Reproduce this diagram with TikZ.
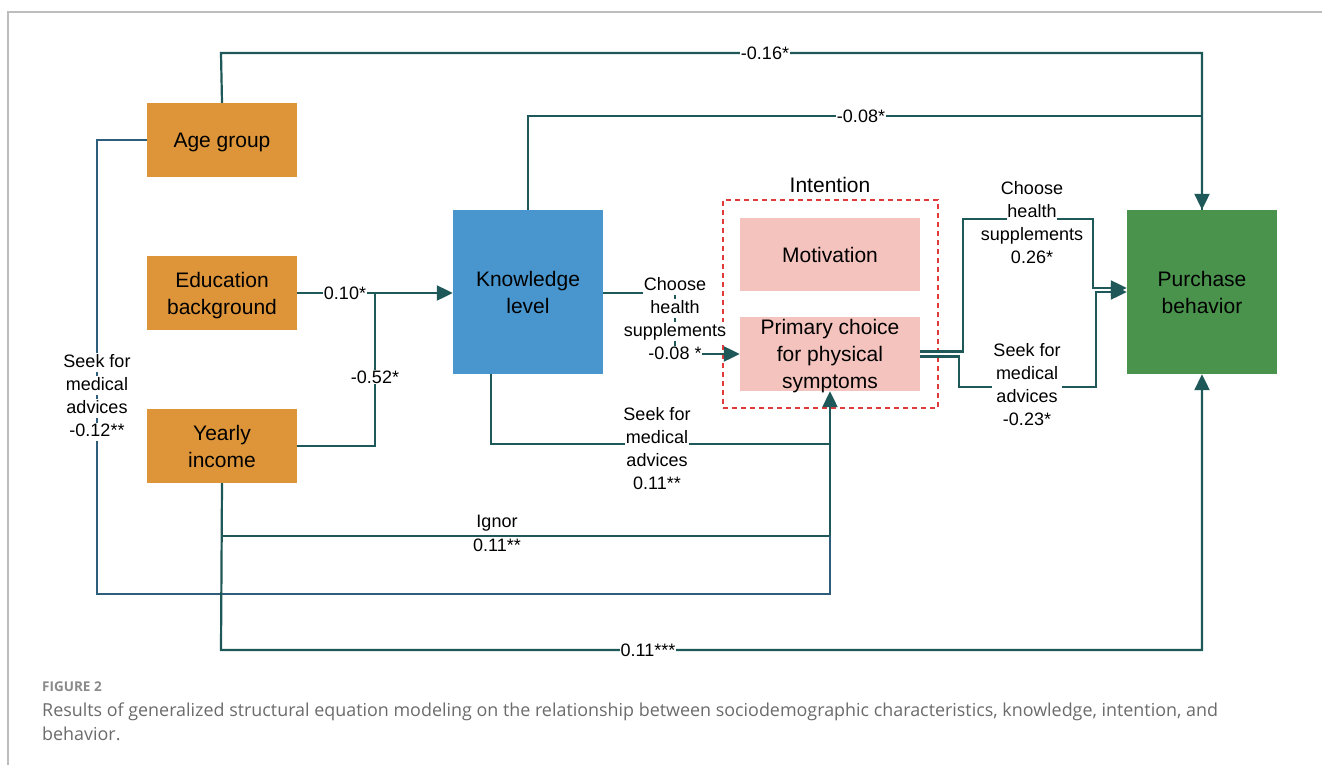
\documentclass[tikz,border=0pt]{standalone}
\usepackage{fontspec}
\setmainfont{Liberation Sans}
\newfontfamily\capfont{Open Sans}
\usetikzlibrary{arrows.meta,calc}
\definecolor{conn}{HTML}{1F5858}
\definecolor{connb}{HTML}{2E5E7C}
\definecolor{orangebox}{HTML}{DE953A}
\definecolor{bluebox}{HTML}{4896CD}
\definecolor{pinkbox}{HTML}{F4C3BD}
\definecolor{greenbox}{HTML}{4A934D}
\definecolor{redash}{HTML}{E03A3A}
\definecolor{capgray}{HTML}{6B6B6B}
\definecolor{figgray}{HTML}{8A8A8A}
\definecolor{framegray}{HTML}{BDBDBD}
\newcommand\wl[1]{{\setlength{\fboxsep}{0.8pt}\colorbox{white}{\vphantom{Ag}#1}}}
\begin{document}
\begin{tikzpicture}[x=1pt,y=-1pt,
  box/.style={draw=none, minimum width=150pt, align=center, font=\fontsize{21}{27}\selectfont, inner sep=0pt, text depth=0pt},
  conn/.style={draw=conn, line width=2.2pt},
  connb/.style={draw=connb, line width=2.2pt},
  tip/.style={-{Triangle[length=16pt,width=15pt]}},
  lab/.style={font=\fontsize{18}{23}\selectfont, align=center, inner sep=0pt},
  labw/.style={lab, fill=white, inner sep=1pt},
  captext/.style={anchor=base west, inner sep=0pt, text=capgray, font=\capfont\fontsize{17.9}{24}\selectfont},
  ]
\useasboundingbox (0,0) rectangle (1322,765);
\draw[framegray, line width=1.2pt] (1322,12) -- (8,12) -- (8,765);

% nodes
\node[box, fill=orangebox, minimum height=74pt] (age) at (222,140) {Age group};
\node[box, fill=orangebox, minimum height=74pt] (edu) at (222,293) {Education\\background};
\node[box, fill=orangebox, minimum height=74pt] (inc) at (222,446) {Yearly\\income};
\node[box, fill=bluebox, minimum height=164pt] (know) at (528,292) {Knowledge\\level};
\node[draw=redash, line width=1.8pt, dash pattern=on 5pt off 4pt, minimum width=215pt, minimum height=208pt, inner sep=0pt] (int) at (830.5,304) {};
\node[font=\fontsize{21}{27}\selectfont, inner sep=0pt] (intl) at (830,185) {Intention};
\node[box, fill=pinkbox, minimum width=180pt, minimum height=73pt] (mot) at (830,254.5) {Motivation};
\node[box, fill=pinkbox, minimum width=180pt, minimum height=74pt] (prim) at (830,354) {Primary choice\\for physical\\symptoms};
\node[box, fill=greenbox, minimum height=164pt] (pur) at (1202,292) {Purchase\\behavior};

% age -> purchase (top)
\draw[conn, tip] (age.north) -- (221,53) -| (pur.north);
\node[labw] (l1) at (765,53) {-0.16*};
% knowledge -> purchase (top)
\draw[conn] (know.north) -- (528,116) -| (pur.north);
\node[labw] (l2) at (861,116) {-0.08*};

% education -> knowledge
\draw[conn, tip] (edu.east) -- (edu.east -| know.west);
\node[labw] (l3) at (345,293) {0.10*};
% income -> knowledge
\draw[conn] (inc.east) -| (375,293);
\node[labw] (l4) at (375,377) {-0.52*};

% knowledge -> primary choice
\draw[conn, tip] (know.east |- edu.east) -- (675,293) |- (prim.west);
\node[lab] (l5) at (675,320) {\wl{Choose}\\\wl{health}\\\wl{supplements}\\\wl{-0.08 *}};

% knowledge -> primary choice (bottom)
\draw[conn, tip] ($(know.south)+(-37,0)$) |- (830,444) -- (prim.south);
\node[lab] (l6) at (657,450) {\wl{Seek for}\\\wl{medical}\\\wl{advices}\\\wl{0.11**}};

% income -> primary choice
\draw[conn] (inc.south) |- (830,536) -- (830,444);
\node[lab, font=\fontsize{18}{24}\selectfont] (l7) at (497,535) {\wl{Ignor}\\\wl{0.11**}};

% age -> primary choice
\draw[connb] (age.west) -| (97,594) -| (830,536);
\node[lab] (l8) at (97,397) {\wl{Seek for}\\\wl{medical}\\\wl{advices}\\\wl{-0.12**}};

% income -> purchase (bottom)
\draw[conn, tip] (inc.south) -- (221,650) -| (pur.south);
\node[labw] (l9) at (648,650) {0.11***};

% primary choice -> purchase
\draw[conn, tip] ($(prim.east)+(0,-2.5)$) -| (963,219) -| (1093,288) -- (pur.west |- 0,288);
\node[lab] (l10) at (1032,224.5) {\wl{Choose}\\\wl{health}\\\wl{supplements}\\\wl{0.26*}};
\draw[conn, tip] ($(prim.east)+(0,2.5)$) -| (959,387) -| (1096,292) -- (pur.west |- 0,292);
\node[labw] (l11) at (1027,384.5) {Seek for\\medical\\advices\\-0.23*};

% caption
\node[anchor=base west, inner sep=0pt, text=figgray, font=\capfont\bfseries\fontsize{13.5}{15}\selectfont] (fig) at (42,691) {FIGURE 2};
\node[captext] (cap1) at (42,716) {Results of generalized structural equation modeling on the relationship between sociodemographic characteristics, knowledge, intention, and};
\node[captext] (cap2) at (42,740) {behavior.};
\end{tikzpicture}
\end{document}
